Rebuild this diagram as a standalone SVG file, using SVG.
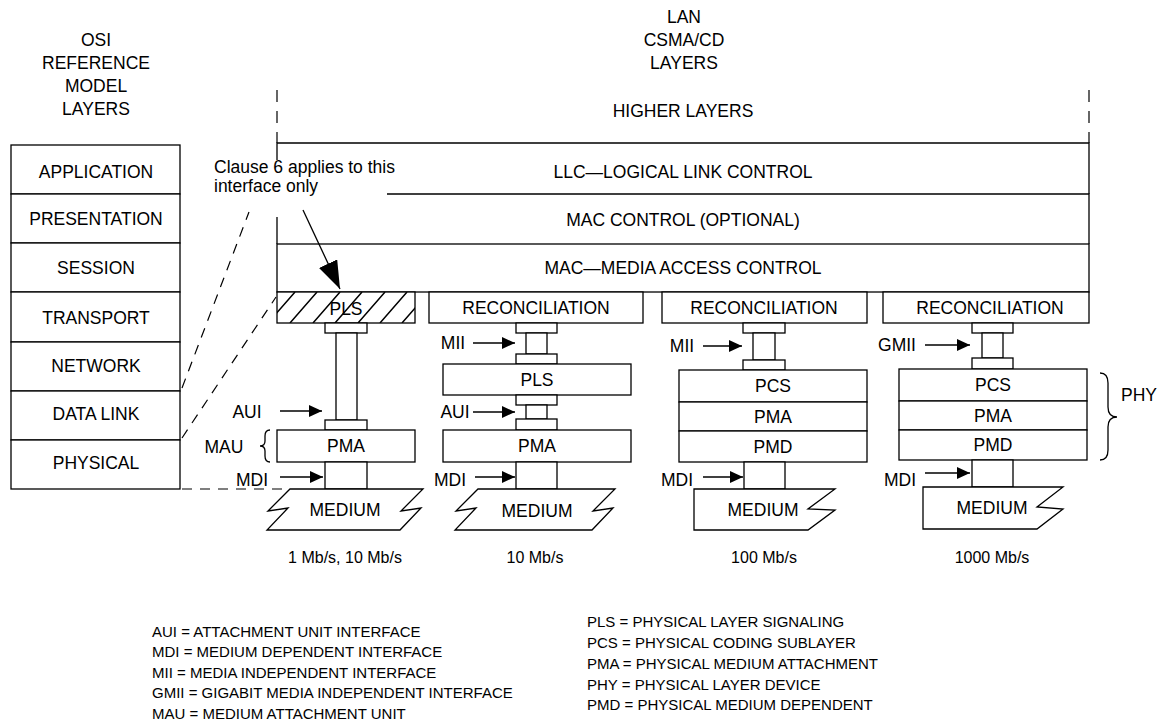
<svg xmlns="http://www.w3.org/2000/svg" width="1160" height="724" viewBox="0 0 1160 724">
<defs>
<style>
text{font-family:"Liberation Sans",Arial,Helvetica,sans-serif;font-size:17.5px;fill:#000}
.c{text-anchor:middle}
.b{fill:#fff;stroke:#000;stroke-width:1.3}
.ln{fill:none;stroke:#000;stroke-width:1.3}
.h{fill:none;stroke:#000;stroke-width:1.5}
.d{fill:none;stroke:#000;stroke-width:1.2;stroke-dasharray:10 8}
.dv{fill:none;stroke:#000;stroke-width:1.2;stroke-dasharray:12 9}
.ar{fill:none;stroke:#000;stroke-width:1.3;marker-end:url(#ah)}
.arb{fill:none;stroke:#000;stroke-width:1.3;marker-end:url(#ahb)}
.lg{font-size:15px}
.sp{font-size:16px}
</style>
<marker id="ah" markerUnits="userSpaceOnUse" markerWidth="14" markerHeight="12" viewBox="0 0 14 12" refX="13" refY="6" orient="auto"><path d="M0,0 L13,6 L0,12 Z"/></marker>
<marker id="ahb" markerUnits="userSpaceOnUse" markerWidth="28" markerHeight="20" viewBox="0 0 28 20" refX="28" refY="10" orient="auto"><path d="M0,0 L28,10 L0,20 Z"/></marker>
<clipPath id="plsclip"><rect x="277" y="292" width="138" height="31"/></clipPath>
</defs>
<rect width="1160" height="724" fill="#fff"/>

<g id="osi-title">
<text class="c" x="96" y="46">OSI</text>
<text class="c" x="96" y="69">REFERENCE</text>
<text class="c" x="96" y="92">MODEL</text>
<text class="c" x="96" y="115">LAYERS</text>
</g>
<g id="osi-application"><rect class="b" x="11" y="145" width="169" height="49"/><text class="c" x="96" y="178">APPLICATION</text></g>
<g id="osi-presentation"><rect class="b" x="11" y="194" width="169" height="49"/><text class="c" x="96" y="225">PRESENTATION</text></g>
<g id="osi-session"><rect class="b" x="11" y="243" width="169" height="49"/><text class="c" x="96" y="274">SESSION</text></g>
<g id="osi-transport"><rect class="b" x="11" y="292" width="169" height="50"/><text class="c" x="96" y="324">TRANSPORT</text></g>
<g id="osi-network"><rect class="b" x="11" y="342" width="169" height="49"/><text class="c" x="96" y="372">NETWORK</text></g>
<g id="osi-datalink"><rect class="b" x="11" y="391" width="169" height="49"/><text class="c" x="96" y="420">DATA LINK</text></g>
<g id="osi-physical"><rect class="b" x="11" y="440" width="169" height="49"/><text class="c" x="96" y="469">PHYSICAL</text></g>

<g id="lan-title">
<text class="c" x="684" y="23">LAN</text>
<text class="c" x="684" y="46">CSMA/CD</text>
<text class="c" x="684" y="69">LAYERS</text>
</g>

<g id="higher-layers">
<path class="dv" d="M277,90 V143 M1089,90 V143"/>
<text class="c" x="683" y="117">HIGHER LAYERS</text>
</g>

<g id="llc">
<path class="ln" d="M277,160 V143 H1089 V194"/>
<text class="c" x="683" y="178">LLC—LOGICAL LINK CONTROL</text>
</g>

<g id="mac-control">
<path class="ln" d="M387,194 H1089 V244 M277,217 V244"/>
<text class="c" x="683" y="226">MAC CONTROL (OPTIONAL)</text>
</g>

<g id="mac">
<rect class="b" x="277" y="244" width="812" height="48"/>
<text class="c" x="683" y="274">MAC—MEDIA ACCESS CONTROL</text>
</g>

<g id="clause-note">
<text x="214" y="173">Clause 6 applies to this</text>
<text x="214" y="192">interface only</text>
</g>

<!-- Column 1 -->
<g id="c1-pls">
<rect class="b" x="277" y="292" width="138" height="31"/>
<g clip-path="url(#plsclip)" class="h">
<path d="M246,323 L273,292 M268,323 L295,292 M290,323 L317,292 M313,323 L340,292 M335,323 L362,292 M358,323 L385,292 M380,323 L407,292 M402,323 L429,292"/>
</g>
<text class="c" x="346" y="315">PLS</text>
</g>
<g id="c1-aui-cable">
<rect class="b" x="325" y="323" width="42" height="10"/>
<rect class="b" x="336" y="333" width="21" height="87"/>
<rect class="b" x="325" y="420" width="42" height="10"/>
</g>
<g id="c1-pma">
<rect class="b" x="277" y="430" width="138" height="32"/>
<text class="c" x="346" y="452">PMA</text>
</g>
<g id="c1-mdi"><rect class="b" x="325" y="462" width="42" height="27"/></g>
<g id="c1-medium">
<path class="b" d="M290,489 H423 L401,511 L421,508 L400,530 H267 L288,508 L268,511 Z"/>
<text class="c" x="345" y="516">MEDIUM</text>
</g>
<g id="c1-mau">
<path class="ln" d="M270,430 Q265,430 265,436 V441 Q265,446 260,446 Q265,446 265,451 V456 Q265,462 270,462"/>
<text class="c" x="224" y="453">MAU</text>
</g>

<!-- Column 2 -->
<g id="c2-reconciliation">
<rect class="b" x="429" y="292" width="214" height="31"/>
<text class="c" x="536" y="314">RECONCILIATION</text>
</g>
<g id="c2-mii-cable">
<rect class="b" x="516" y="323" width="41" height="10"/>
<rect class="b" x="526" y="333" width="21" height="21"/>
<rect class="b" x="516" y="354" width="41" height="10"/>
</g>
<g id="c2-pls">
<rect class="b" x="443" y="364" width="188" height="31"/>
<text class="c" x="537" y="386">PLS</text>
</g>
<g id="c2-aui-cable">
<rect class="b" x="516" y="395" width="41" height="10"/>
<rect class="b" x="526" y="405" width="21" height="14"/>
<rect class="b" x="516" y="419" width="41" height="11"/>
</g>
<g id="c2-pma">
<rect class="b" x="443" y="430" width="188" height="32"/>
<text class="c" x="537" y="452">PMA</text>
</g>
<g id="c2-mdi"><rect class="b" x="516" y="462" width="41" height="27"/></g>
<g id="c2-medium">
<path class="b" d="M478,489 H615 L593,511 L613,508 L592,530 H455 L476,508 L456,511 Z"/>
<text class="c" x="537" y="517">MEDIUM</text>
</g>

<!-- Column 3 -->
<g id="c3-reconciliation">
<rect class="b" x="662" y="292" width="205" height="31"/>
<text class="c" x="764" y="314">RECONCILIATION</text>
</g>
<g id="c3-mii-cable">
<rect class="b" x="743" y="323" width="42" height="10"/>
<rect class="b" x="753" y="333" width="22" height="27"/>
<rect class="b" x="743" y="360" width="42" height="10"/>
</g>
<g id="c3-pcs"><rect class="b" x="679" y="370" width="188" height="32"/><text class="c" x="773" y="392">PCS</text></g>
<g id="c3-pma"><rect class="b" x="679" y="402" width="188" height="29"/><text class="c" x="773" y="423">PMA</text></g>
<g id="c3-pmd"><rect class="b" x="679" y="431" width="188" height="31"/><text class="c" x="773" y="453">PMD</text></g>
<g id="c3-mdi"><rect class="b" x="744" y="462" width="41" height="27"/></g>
<g id="c3-medium">
<path class="b" d="M694,489 H835 L808,509 L835,510 L808,530 H694 Z"/>
<text class="c" x="763" y="516">MEDIUM</text>
</g>

<!-- Column 4 -->
<g id="c4-reconciliation">
<rect class="b" x="883" y="292" width="206" height="31"/>
<text class="c" x="990" y="314">RECONCILIATION</text>
</g>
<g id="c4-gmii-cable">
<rect class="b" x="972" y="323" width="41" height="10"/>
<rect class="b" x="982" y="333" width="21" height="25"/>
<rect class="b" x="972" y="358" width="41" height="11"/>
</g>
<g id="c4-pcs"><rect class="b" x="899" y="369" width="188" height="32"/><text class="c" x="993" y="391">PCS</text></g>
<g id="c4-pma"><rect class="b" x="899" y="401" width="188" height="29"/><text class="c" x="993" y="422">PMA</text></g>
<g id="c4-pmd"><rect class="b" x="899" y="430" width="188" height="30"/><text class="c" x="993" y="451">PMD</text></g>
<g id="c4-mdi"><rect class="b" x="972" y="460" width="41" height="27"/></g>
<g id="c4-medium">
<path class="b" d="M923,487 H1063 L1037,507 L1063,509 L1037,529 H923 Z"/>
<text class="c" x="992" y="514">MEDIUM</text>
</g>
<g id="phy">
<path class="ln" d="M1100,373 Q1108,373 1108,383 V407 Q1108,417 1117,417 Q1108,417 1108,427 V450 Q1108,460 1100,460"/>
<text class="c" x="1139" y="401">PHY</text>
</g>

<!-- interface labels -->
<g id="labels">
<text class="c" x="247" y="418">AUI</text>
<text class="c" x="252" y="486">MDI</text>
<text class="c" x="453" y="349">MII</text>
<text class="c" x="455" y="418">AUI</text>
<text class="c" x="450" y="486">MDI</text>
<text class="c" x="682" y="352">MII</text>
<text class="c" x="677" y="486">MDI</text>
<text class="c" x="897" y="351">GMII</text>
<text class="c" x="900" y="486">MDI</text>
</g>

<g id="connectors">
<path class="ar" d="M280,411 H322"/>
<path class="ar" d="M280,477 H323"/>
<path class="ar" d="M473,343 H515"/>
<path class="ar" d="M473,412 H515"/>
<path class="ar" d="M475,477 H515"/>
<path class="ar" d="M703,346 H742"/>
<path class="ar" d="M703,477 H743"/>
<path class="ar" d="M925,345 H970"/>
<path class="ar" d="M925,473 H970"/>
<path class="arb" d="M303,210 L340,289"/>
<path class="d" d="M182,388 L249,212"/>
<path class="d" d="M182,438 L276,297"/>
<path class="d" d="M182,489 H290"/>
</g>

<g id="speeds">
<text class="c sp" x="345" y="563">1 Mb/s, 10 Mb/s</text>
<text class="c sp" x="535" y="563">10 Mb/s</text>
<text class="c sp" x="764" y="563">100 Mb/s</text>
<text class="c sp" x="992" y="563">1000 Mb/s</text>
</g>

<g id="legend-left">
<text class="lg" x="152" y="637">AUI = ATTACHMENT UNIT INTERFACE</text>
<text class="lg" x="152" y="657">MDI = MEDIUM DEPENDENT INTERFACE</text>
<text class="lg" x="152" y="678">MII  = MEDIA INDEPENDENT INTERFACE</text>
<text class="lg" x="152" y="698">GMII = GIGABIT MEDIA INDEPENDENT INTERFACE</text>
<text class="lg" x="152" y="719">MAU = MEDIUM ATTACHMENT UNIT</text>
</g>
<g id="legend-right">
<text class="lg" x="587" y="627">PLS = PHYSICAL LAYER SIGNALING</text>
<text class="lg" x="587" y="648">PCS = PHYSICAL CODING SUBLAYER</text>
<text class="lg" x="587" y="669">PMA = PHYSICAL MEDIUM ATTACHMENT</text>
<text class="lg" x="587" y="690">PHY = PHYSICAL LAYER DEVICE</text>
<text class="lg" x="587" y="710">PMD = PHYSICAL MEDIUM DEPENDENT</text>
</g>
</svg>
